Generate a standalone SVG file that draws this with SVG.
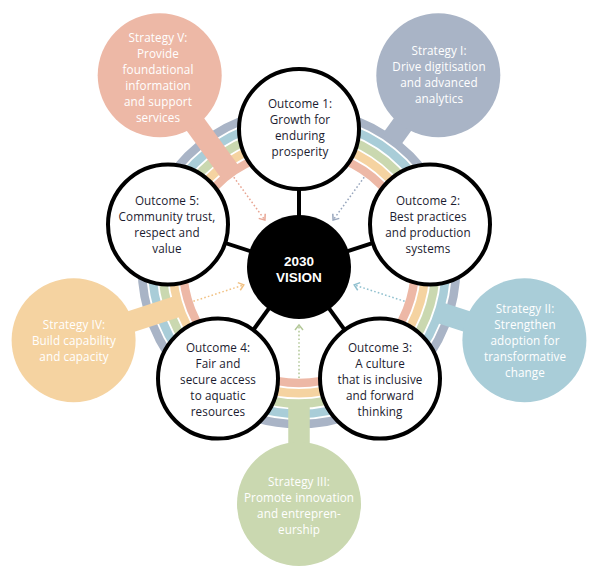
<svg xmlns="http://www.w3.org/2000/svg" width="600" height="577" viewBox="0 0 600 577">
<style>
.ring{fill:none;stroke-width:8.5}
.stem{stroke-width:21.5;stroke-linecap:butt;fill:none}
.oc{fill:#fff;stroke:#000;stroke-width:4}
.spoke{stroke:#000;stroke-width:4}
.dot{fill:none;stroke-width:1.5;stroke-dasharray:1.6 2.2}
.ot{font-family:"Open Sans","Noto Sans",sans-serif;font-size:11.7px;letter-spacing:0.1px;fill:#1c1c30;text-anchor:middle}
.st{font-family:"Open Sans","Noto Sans",sans-serif;font-size:11.7px;letter-spacing:0.1px;fill:#fff;text-anchor:middle}
.vt{font-family:"Liberation Sans",Arial,sans-serif;font-size:13.5px;font-weight:bold;fill:#fff;text-anchor:middle}
</style>
<defs>
<marker id="aP" markerWidth="10" markerHeight="10" refX="7" refY="5" orient="auto" markerUnits="userSpaceOnUse"><path d="M2,1 L7,5 L2,9" fill="none" stroke="#E8A593" stroke-width="1.5"/></marker>
<marker id="aG" markerWidth="10" markerHeight="10" refX="7" refY="5" orient="auto" markerUnits="userSpaceOnUse"><path d="M2,1 L7,5 L2,9" fill="none" stroke="#98A6BD" stroke-width="1.5"/></marker>
<marker id="aB" markerWidth="10" markerHeight="10" refX="7" refY="5" orient="auto" markerUnits="userSpaceOnUse"><path d="M2,1 L7,5 L2,9" fill="none" stroke="#90C0CF" stroke-width="1.5"/></marker>
<marker id="aN" markerWidth="10" markerHeight="10" refX="7" refY="5" orient="auto" markerUnits="userSpaceOnUse"><path d="M2,1 L7,5 L2,9" fill="none" stroke="#B3C898" stroke-width="1.5"/></marker>
<marker id="aO" markerWidth="10" markerHeight="10" refX="7" refY="5" orient="auto" markerUnits="userSpaceOnUse"><path d="M2,1 L7,5 L2,9" fill="none" stroke="#F1C183" stroke-width="1.5"/></marker>
</defs>

<g id="rings">
<circle class="ring" cx="299" cy="267" r="116" stroke="#EDB8A6"/>
<circle class="ring" cx="299" cy="267" r="126.3" stroke="#F5D3A1"/>
<circle class="ring" cx="299" cy="267" r="136.6" stroke="#CAD8B0"/>
<circle class="ring" cx="299" cy="267" r="146.9" stroke="#A9CDD8"/>
<circle class="ring" cx="299" cy="267" r="157.2" stroke="#A9B4C6"/>
</g>

<g id="strategy-1">
<line class="stem" x1="438.3" y1="75.3" x2="391.3" y2="140" stroke="#A9B4C6"/>
<circle cx="438.3" cy="75.3" r="62" fill="#A9B4C6"/>
<text class="st" x="439" y="55">Strategy I:</text>
<text class="st" x="439" y="71">Drive digitisation</text>
<text class="st" x="439" y="87">and advanced</text>
<text class="st" x="439" y="103">analytics</text>
</g>
<g id="strategy-2">
<line class="stem" x1="524.4" y1="340.2" x2="438.8" y2="312.4" stroke="#A9CDD8"/>
<circle cx="524.4" cy="340.2" r="62" fill="#A9CDD8"/>
<text class="st" x="525" y="313">Strategy II:</text>
<text class="st" x="525" y="329">Strengthen</text>
<text class="st" x="525" y="345">adoption for</text>
<text class="st" x="525" y="361">transformative</text>
<text class="st" x="525" y="377">change</text>
</g>
<g id="strategy-3">
<line class="stem" x1="299" y1="504" x2="299" y2="403.6" stroke="#CAD8B0"/>
<circle cx="299" cy="504" r="62" fill="#CAD8B0"/>
<text class="st" x="299" y="486">Strategy III:</text>
<text class="st" x="299" y="502">Promote innovation</text>
<text class="st" x="299" y="518">and entrepren-</text>
<text class="st" x="299" y="534">eurship</text>
</g>
<g id="strategy-4">
<line class="stem" x1="73.6" y1="340.2" x2="178.9" y2="306" stroke="#F5D3A1"/>
<circle cx="73.6" cy="340.2" r="62" fill="#F5D3A1"/>
<text class="st" x="74" y="329">Strategy IV:</text>
<text class="st" x="74" y="345">Build capability</text>
<text class="st" x="74" y="361">and capacity</text>
</g>
<g id="strategy-5">
<line class="stem" x1="159.7" y1="75.3" x2="230.8" y2="173.2" stroke="#EDB8A6"/>
<circle cx="159.7" cy="75.3" r="62" fill="#EDB8A6"/>
<text class="st" x="158" y="42">Strategy V:</text>
<text class="st" x="158" y="58">Provide</text>
<text class="st" x="158" y="74">foundational</text>
<text class="st" x="158" y="90">information</text>
<text class="st" x="158" y="106">and support</text>
<text class="st" x="158" y="122">services</text>
</g>

<g id="connectors">
<line class="spoke" x1="299" y1="267" x2="299" y2="129"/>
<line class="spoke" x1="299" y1="267" x2="430" y2="224.4"/>
<line class="spoke" x1="299" y1="267" x2="380" y2="378.6"/>
<line class="spoke" x1="299" y1="267" x2="218" y2="378.6"/>
<line class="spoke" x1="299" y1="267" x2="168" y2="224.4"/>
<line class="dot" x1="364.2" y1="177.2" x2="333.1" y2="220.1" stroke="#98A6BD" marker-end="url(#aG)"/>
<line class="dot" x1="404.6" y1="301.3" x2="354.2" y2="284.9" stroke="#90C0CF" marker-end="url(#aB)"/>
<line class="dot" x1="299" y1="378" x2="299" y2="325" stroke="#B3C898" marker-end="url(#aN)"/>
<line class="dot" x1="193.4" y1="301.3" x2="243.8" y2="284.9" stroke="#F1C183" marker-end="url(#aO)"/>
<line class="dot" x1="233.8" y1="177.2" x2="264.9" y2="220.1" stroke="#E8A593" marker-end="url(#aP)"/>
</g>

<g id="outcome-1">
<circle class="oc" cx="299" cy="129" r="60"/>
<text class="ot" x="300" y="108">Outcome 1:</text>
<text class="ot" x="300" y="124">Growth for</text>
<text class="ot" x="300" y="140">enduring</text>
<text class="ot" x="300" y="156">prosperity</text>
</g>
<g id="outcome-2">
<circle class="oc" cx="430" cy="224.4" r="60"/>
<text class="ot" x="428" y="205">Outcome 2:</text>
<text class="ot" x="428" y="221">Best practices</text>
<text class="ot" x="428" y="237">and production</text>
<text class="ot" x="428" y="253">systems</text>
</g>
<g id="outcome-3">
<circle class="oc" cx="380" cy="378.6" r="60"/>
<text class="ot" x="380" y="352">Outcome 3:</text>
<text class="ot" x="380" y="368">A culture</text>
<text class="ot" x="380" y="384">that is inclusive</text>
<text class="ot" x="380" y="400">and forward</text>
<text class="ot" x="380" y="416">thinking</text>
</g>
<g id="outcome-4">
<circle class="oc" cx="218" cy="378.6" r="60"/>
<text class="ot" x="218" y="352">Outcome 4:</text>
<text class="ot" x="218" y="368">Fair and</text>
<text class="ot" x="218" y="384">secure access</text>
<text class="ot" x="218" y="400">to aquatic</text>
<text class="ot" x="218" y="416">resources</text>
</g>
<g id="outcome-5">
<circle class="oc" cx="168" cy="224.4" r="60"/>
<text class="ot" x="167" y="205">Outcome 5:</text>
<text class="ot" x="167" y="221">Community trust,</text>
<text class="ot" x="167" y="237">respect and</text>
<text class="ot" x="167" y="253">value</text>
</g>

<g id="vision">
<circle cx="299" cy="267" r="52" fill="#000"/>
<text class="vt" x="299" y="266">2030</text>
<text class="vt" x="299" y="282">VISION</text>
</g>
</svg>
